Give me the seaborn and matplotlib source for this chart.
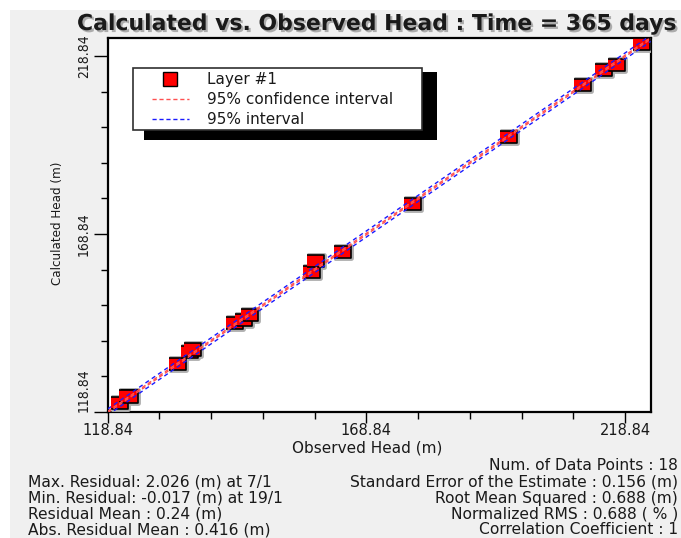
import numpy as np
import pandas as pd
import matplotlib
matplotlib.use("Agg")
import matplotlib.pyplot as plt
import matplotlib.patheffects as pe
from matplotlib.patches import Rectangle
from matplotlib.lines import Line2D
import seaborn as sns

# ---- data ----
observed   = [121.21, 122.62, 123.10, 132.35, 134.73, 135.20, 143.28, 145.02, 146.18,
              158.22, 159.05, 164.21, 177.84, 196.37, 210.54, 214.71, 217.10, 221.93]
calculated = [121.28, 123.42, 123.20, 132.24, 135.61, 136.40, 143.76, 144.68, 146.09,
              158.08, 161.34, 163.78, 177.27, 196.17, 210.69, 214.90, 216.31, 222.24]
line_x     = [118.84, 223.8]       # 1:1 reference line extent
ci_offset  = [-0.2, 0.2]           # 95% confidence interval
pi_offset  = [-0.85, 0.85]         # 95% interval
tick_major = [118.84, 168.84, 218.84]
tick_minor = [128.84, 138.84, 148.84, 158.84, 178.84, 188.84, 198.84, 208.84]

left_stats  = ["Max. Residual: 2.026 (m) at 7/1",
               "Min. Residual: -0.017 (m) at 19/1",
               "Residual Mean : 0.24 (m)",
               "Abs. Residual Mean : 0.416 (m)"]
right_stats = ["Num. of Data Points : 18",
               "Standard Error of the Estimate : 0.156 (m)",
               "Root Mean Squared : 0.688 (m)",
               "Normalized RMS : 0.688 ( % )",
               "Correlation Coefficient : 1"]

df = pd.DataFrame({"obs": observed, "calc": calculated})

sns.set_style("white")
plt.rcParams["font.family"] = ["DejaVu Sans"]
TXT = "#1a1a1a"

W, H = 681, 538
fig = plt.figure(figsize=(W / 100, H / 100), dpi=100)
fig.patch.set_facecolor("white")
fig.add_artist(Rectangle((10 / W, 0), 1, 1 - 10 / H, transform=fig.transFigure,
                         facecolor="#f0f0f0", edgecolor="none", zorder=-10))

ax = fig.add_axes([107.7 / W, 1 - 412 / H, 543 / W, 374 / H])
ax.set_facecolor("white")

# scatter
sns.scatterplot(data=df, x="obs", y="calc", ax=ax,
                marker=[(-1, -0.72), (1, -0.72), (1, 0.72), (-1, 0.72)],
                s=150, color="#ff0000", edgecolor="black", linewidth=1.2, zorder=3)
ax.collections[0].set_path_effects([pe.Stroke(linewidth=3.5, foreground="#b0b0b0"), pe.Normal()])

# interval lines
lx = np.array(line_x)
for off in ci_offset:
    sns.lineplot(x=lx, y=lx + off, ax=ax, color="#ff5050", lw=1,
                 zorder=4).lines[-1].set_dashes([3, 2])
for off in pi_offset:
    sns.lineplot(x=lx, y=lx + off, ax=ax, color="#1a1aff", lw=1,
                 zorder=4).lines[-1].set_dashes([3, 2.5])

ax.set_xlim(118.84, 223.8)
ax.set_ylim(118.84, 223.9)

ax.set_xticks(tick_major)
ax.set_xticks(tick_minor, minor=True)
ax.set_yticks(tick_major)
ax.set_yticks(tick_minor, minor=True)
ax.set_xticklabels([f"{t:.2f}" for t in tick_major], fontsize=10.5, color=TXT)
ax.set_yticklabels([f"{t:.2f}" for t in tick_major], fontsize=10, color=TXT,
                   rotation=90, va="center", fontstretch="condensed")
ax.get_yticklabels()[0].set_va("bottom")
ax.tick_params(axis="x", which="major", direction="out", length=8, width=1,
               color="black", pad=0, bottom=True)
ax.tick_params(axis="y", which="major", direction="out", length=10, width=1,
               color="black", pad=2, left=True)
ax.tick_params(axis="both", which="minor", direction="out", length=5, width=1,
               color="black", left=True, bottom=True)
for sp in ax.spines.values():
    sp.set_color("black")
    sp.set_linewidth(1.6)

ax.set_xlabel("")
ax.set_ylabel("")

# legend box with solid shadow
ax.add_patch(Rectangle((0.0674, 0.727), 0.5386, 0.183, transform=ax.transAxes,
                       facecolor="black", edgecolor="none", zorder=5))
ax.add_patch(Rectangle((0.046, 0.754), 0.532, 0.165, transform=ax.transAxes,
                       facecolor="white", edgecolor="#303030", lw=1.2, zorder=6))
handles = [Line2D([], [], marker="s", ls="none", markersize=10, markerfacecolor="#ff0000",
                  markeredgecolor="black"),
           Line2D([], [], color="#ff5050", lw=1, dashes=[3, 2]),
           Line2D([], [], color="#1a1aff", lw=1, dashes=[3, 2])]
leg = ax.legend(handles, ["Layer #1", "95% confidence interval", "95% interval"],
                loc="upper left", bbox_to_anchor=(0.062, 0.937), frameon=False,
                fontsize=11, handlelength=2.4, handletextpad=1.2, labelspacing=0.32,
                borderpad=0.2)
for txt in leg.get_texts():
    txt.set_color(TXT)
leg.set_zorder(7)

# title with drop shadow
t = fig.text(77 / W, 1 - 24 / H, "Calculated vs. Observed Head : Time = 365 days",
             fontsize=15.8, fontweight="bold", ha="left", va="center", color=TXT)
t.set_path_effects([pe.withSimplePatchShadow(offset=(1.5, -1.5), shadow_rgbFace="#808080", alpha=0.6)])

fig.text(58 / W, 1 - 223 / H, "Calculated Head (m)", rotation=90, ha="center", va="center",
         fontsize=9.5, fontstretch="condensed", color=TXT)
fig.text(367 / W, 1 - 448 / H, "Observed Head (m)", ha="center", va="center",
         fontsize=11, color=TXT)

for i, s in enumerate(right_stats):
    fig.text(678 / W, 1 - (466 + 16 * i) / H, s, ha="right", va="center", fontsize=11.2, color=TXT)
for i, s in enumerate(left_stats):
    fig.text(28 / W, 1 - (482 + 16 * i) / H, s, ha="left", va="center", fontsize=11.2, color=TXT)

fig.savefig("out.png", dpi=100, facecolor=fig.get_facecolor())
